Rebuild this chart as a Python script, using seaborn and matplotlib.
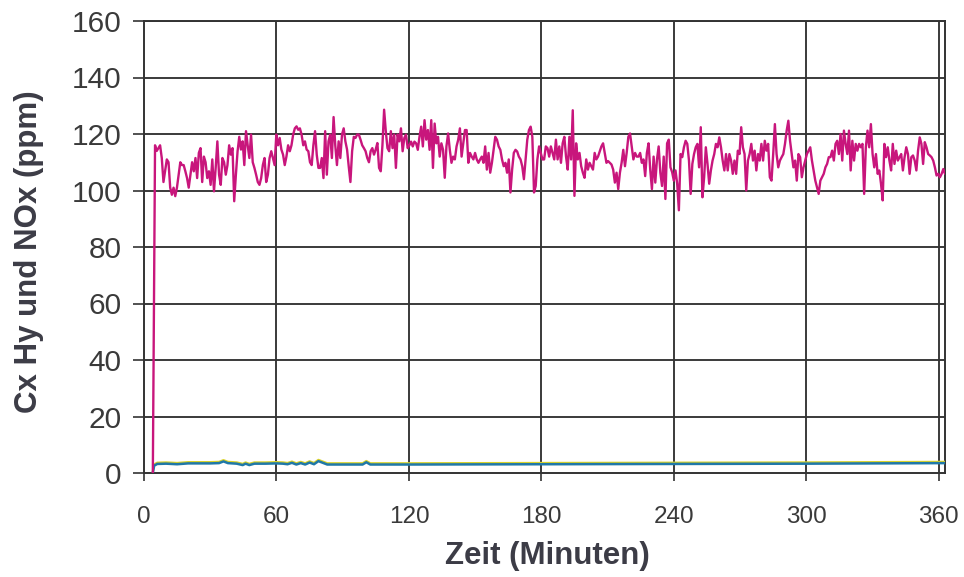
import numpy as np
import pandas as pd
import matplotlib
matplotlib.use("Agg")
import matplotlib.pyplot as plt
import seaborn as sns

# ---------------- data ----------------
# main (magenta) series, ppm, sampled roughly every 0.76 minutes from ~5 min to the end
nox_ppm = [
    116, 114, 115, 116, 111.5, 103, 107, 111, 110, 101,
    98.5, 101, 98, 101, 105.6, 110, 109, 109, 106.8, 104.4,
    101, 105.6, 110, 106.8, 111.5, 104.4, 113.3, 115, 103, 112,
    110, 104.4, 106.8, 102, 111, 99.7, 108, 117.4, 105.6, 102,
    111.5, 110, 105.6, 109, 116, 112.7, 115, 96.2, 105.6, 113.9,
    119, 114.5, 117.4, 109, 121, 116, 111.5, 119.8, 110, 108,
    105.6, 103, 102, 104.4, 109, 111.5, 103, 105.6, 111.5, 113.9,
    111.5, 109, 119.8, 116, 118.6, 114.5, 112.7, 109, 112, 116,
    113.9, 116, 119.8, 122, 122.7, 121.5, 122, 119.8, 116, 117.4,
    114.5, 113.9, 110, 109, 116, 121, 112.7, 108, 108, 111.5,
    104.4, 121, 105.6, 117.4, 119.8, 111.5, 126, 116, 109, 117.4,
    111.5, 119.8, 122, 117.4, 114.5, 108.5, 103, 113.9, 119, 118.6,
    119.8, 119.8, 118, 116, 115, 113.9, 111.5, 110, 113.9, 115,
    112.7, 114.5, 116.8, 108, 106.8, 116, 128.6, 121, 115, 113.9,
    121, 115, 119.8, 108, 119.8, 117.4, 122, 113.9, 118.6, 119.8,
    115, 116,
    117.3, 115.6, 117.3, 116.7, 114.4, 119, 122.6, 115.6, 124.9, 118,
    121.4, 114.4, 124.9, 108, 123.7, 116.7, 119, 112, 116.7, 114.4,
    104.5, 115.6, 120.2, 114.4, 109.8, 112, 111, 115.6, 118, 122,
    112, 116.7, 121.4, 121.4, 109.8, 113.3, 112, 111, 113.3, 111,
    109.8, 111, 112, 109.8, 115.6, 107.4, 113.3, 106.3, 109.8, 114.4,
    119, 118, 115.6, 114.4, 111, 108.6, 109.8, 106.3, 111, 99.3,
    107.4, 113.3, 114.4, 113.8, 112, 111, 108.6, 104, 111, 118,
    121.4, 122.6, 119, 99.3, 101.6, 111, 115.6, 113.3, 111, 111,
    115.6, 115, 112, 115.6, 113.3, 111, 118, 111, 115.6, 109.8,
    116.7, 119, 112, 107.4, 119, 111, 128.4, 98.1, 116.7, 111,
    113.3, 108.6, 106.3, 104.5, 111, 107.4, 109.8, 108.6, 107.4, 113.3,
    111, 112, 113.8, 115.6, 116.7, 113.3, 109.8, 110.4, 109.8, 109.2,
    107.4, 102.8, 106.3, 100.5, 106.3, 109.8, 114.4, 108.6, 113.3, 119,
    120.2, 115.6, 111, 113.3, 112, 112, 113.3, 109.8, 111, 105.1,
    113.3, 116.7, 107.4, 100.5, 112, 102.8, 111, 115.6, 106.3, 101.6,
    112, 97, 116.7, 118,
    108.2, 106.5, 103.5, 107.1, 102.4, 93, 112.9, 111.8, 115.3, 117.6,
    116.5, 110.6, 98.8, 109.4, 112.9, 115.3, 116.5, 108.2, 122.4, 97.6,
    104.7, 115.3, 109.4, 102.4, 107.1, 110.6, 112.9, 116.5, 115.3, 118.8,
    115.3, 110.6, 107.1, 112.9, 107.1, 112.9, 110.6, 105.9, 110.6, 105.9,
    114.1, 112.9, 122.4, 115.3, 112.9, 100, 110.6, 112.9, 116.5, 110.6,
    114.1, 107.1, 112.9, 110.6, 116.5, 110.6, 117.6, 114.1, 116.5, 104.7,
    103.5, 112.9, 123.5, 112.9, 108.2, 110.6, 111.8, 112.9, 116.5, 121.2,
    124.7, 117.6, 112.9, 108.2, 110.6, 103.5, 112.9, 111.8, 104.7, 108.2,
    110.6, 112.9, 114.1, 115.3, 110.6, 107.1, 103.5, 101.2, 98.8, 103.5,
    104.7, 105.9, 108.2, 109.4, 111.8, 111.8, 114.1, 110.6, 116.5, 117.6,
    112.9, 120, 110.6, 121.2, 116.5, 112.9, 121.2, 107.1, 117.6, 110.6,
    116.5, 114.1, 116.5, 115.3, 116.5, 98.8, 115.3, 121.2, 115.3, 123.5,
    112.9, 108.2, 112.9, 105.9, 107.1, 102.4, 96.5, 116.5, 111.8, 115.3,
    110.6, 107.1, 116.5, 109.4, 114.1, 110.6, 111.8, 112.9, 107.1, 111.8,
    115.3, 112.9, 105.9, 111.8, 112.4, 110.6, 107.1, 114.1, 118.8, 116.5,
    109.4, 117.1, 115.3, 112.9, 112.4, 111.8, 110.6, 108.2, 105.3, 105.9,
    104.7, 105.9, 107.6, 105.9,
]
nox_start_min = 5.0
nox_end_min = 362.8
rise_min = [4.0]
rise_ppm = [0.0]

# lower (green) series, ppm
hc_min = [4.0, 4.6, 6, 10, 15, 20, 25, 30, 34, 36, 38, 42, 44.7, 46, 47.7, 50, 55, 60,
          63, 65, 67, 69, 71, 73, 75, 77, 79, 81, 83, 90, 99, 100.7, 102.5, 120, 180,
          240, 300, 363]
hc_ppm = [0.0, 2.6, 3.2, 3.3, 3.1, 3.4, 3.4, 3.4, 3.5, 4.1, 3.5, 3.3, 2.8, 3.3, 2.8, 3.3, 3.3, 3.4,
          3.3, 3.1, 3.6, 3.0, 3.5, 3.0, 3.7, 3.1, 4.2, 3.6, 3.0, 3.0, 3.0, 3.8, 3.0, 3.0, 3.1,
          3.2, 3.3, 3.5]

x_ticks = [0, 60, 120, 180, 240, 300, 360]
y_ticks = [0, 20, 40, 60, 80, 100, 120, 140, 160]
x_label = "Zeit (Minuten)"
y_label = "Cx Hy und NOx (ppm)"

# ---------------- build frames ----------------
t_main = np.linspace(nox_start_min, nox_end_min, len(nox_ppm))
df_main = pd.DataFrame({"t": np.concatenate([rise_min, t_main]),
                        "ppm": np.concatenate([rise_ppm, nox_ppm])})
df_hc = pd.DataFrame({"t": hc_min, "ppm": hc_ppm})
df_hc_y = pd.DataFrame({"t": hc_min, "ppm": np.array(hc_ppm) + 0.45})

# ---------------- plot ----------------
sns.set_theme(style="white")
plt.rcParams["font.family"] = ["Liberation Sans", "DejaVu Sans"]

W, H = 964, 577
fig = plt.figure(figsize=(W / 100, H / 100), dpi=100)
ax = fig.add_axes([144 / W, 1 - 473 / H, 801 / W, 452 / H])

grid_c = "#333333"
for xv in x_ticks[1:]:
    ax.axvline(xv, color=grid_c, lw=1.35, zorder=1)
for yv in y_ticks[1:]:
    ax.axhline(yv, color=grid_c, lw=1.35, zorder=1)

sns.lineplot(data=df_hc_y, x="t", y="ppm", ax=ax, color="#d9d22a", lw=1.6,
             estimator=None, sort=False, zorder=3)
sns.lineplot(data=df_hc, x="t", y="ppm", ax=ax, color="#1f78a8", lw=1.8,
             estimator=None, sort=False, zorder=3)
sns.lineplot(data=df_main, x="t", y="ppm", ax=ax, color="#c8167c", lw=1.7,
             estimator=None, sort=False, zorder=4)

ax.set_xlim(0, 362.8)
ax.set_ylim(0, 160)
ax.set_xticks(x_ticks)
ax.set_yticks(y_ticks)
ax.set_xlabel("")
ax.set_ylabel("")

for s in ["left", "bottom", "top", "right"]:
    ax.spines[s].set_visible(True)
    ax.spines[s].set_color(grid_c)
    ax.spines[s].set_linewidth(1.4)

ax.tick_params(axis="y", direction="out", length=8, width=1.2, color=grid_c,
               labelsize=21.5, labelcolor="#3a3a3a", pad=8, left=True)
ax.tick_params(axis="x", direction="out", length=6, width=1.2, color=grid_c,
               labelsize=17.5, labelcolor="#3a3a3a", pad=18, bottom=True)

fig.text(547 / W, 1 - 556 / H, x_label, ha="center", va="center",
         fontsize=22.5, fontweight="bold", color="#3c3c46")
fig.text(29 / W, 1 - 252 / H, y_label, ha="center", va="center", rotation=90,
         fontsize=22.5, fontweight="bold", color="#3c3c46")

fig.savefig("out.png", dpi=100, facecolor="white")
